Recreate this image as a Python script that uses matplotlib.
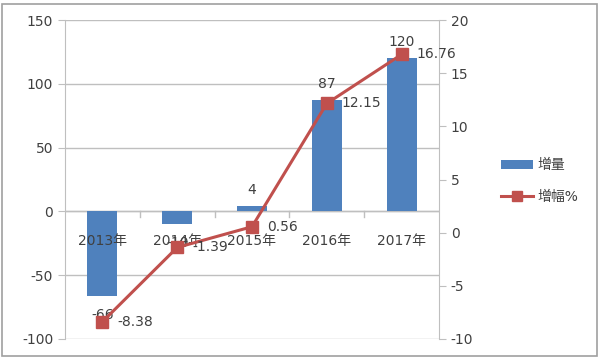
import numpy as np
import matplotlib.pyplot as plt
import matplotlib.ticker as mticker
from matplotlib.patches import Rectangle

plt.rcParams['font.family'] = ['DejaVu Sans', 'Noto Sans CJK SC']
plt.rcParams['axes.unicode_minus'] = False

years = ['2013年', '2014年', '2015年', '2016年', '2017年']
increase = [-66, -10, 4, 87, 120]
growth = [-8.38, -1.39, 0.56, 12.15, 16.76]

bar_col = '#4F81BD'
line_col = '#C0504D'
grid_col = '#BFBFBF'
txt_col = '#404040'

fig = plt.figure(figsize=(6.0, 3.59), dpi=100)
ax = fig.add_axes([65/600, 20/359, (439-65)/600, (339-20)/359])
ax2 = ax.twinx()

x = np.arange(len(years))
ax.bar(x, increase, width=0.4, color=bar_col, label='增量', zorder=2)
ax2.plot(x, growth, color=line_col, lw=2.2, marker='s', ms=9,
         markeredgecolor=line_col, label='增幅%', zorder=3)

ax.set_xlim(-0.5, 4.5)
ax.set_ylim(-100, 150)
ax2.set_ylim(-10, 20)
ax.yaxis.set_major_locator(mticker.MultipleLocator(50))
ax2.yaxis.set_major_locator(mticker.MultipleLocator(5))

ax.grid(axis='y', color=grid_col, lw=1, zorder=0)
ax.axhline(0, color=grid_col, lw=1, zorder=1)

for s in ['top', 'bottom']:
    ax.spines[s].set_visible(False)
    ax2.spines[s].set_visible(False)
ax2.spines['left'].set_visible(False)
ax.spines['right'].set_visible(False)
ax.spines['left'].set_color(grid_col)
ax2.spines['right'].set_color(grid_col)

ax.tick_params(axis='y', colors=txt_col, labelsize=10, length=5, color=grid_col)
ax2.tick_params(axis='y', colors=txt_col, labelsize=10, length=5, color=grid_col)

# category labels sit just below the zero line
ax.set_xticks([])
for i, lab in enumerate(years):
    ax.text(i, -23, lab, ha='center', va='center', fontsize=10, color=txt_col)
# ticks between categories on the zero line
for b in np.arange(0.5, 4.5, 1):
    ax.plot([b, b], [0, -4], color=grid_col, lw=1, zorder=1)

# bar value labels
for i, v in enumerate(increase):
    off = 12.5 if v >= 0 else -15
    ax.text(i, v + off, str(v), ha='center', va='center', fontsize=10, color=txt_col)

# line value labels
for i, v in enumerate(growth):
    ax2.text(i + 0.2, v, f'{v:.2f}', ha='left', va='center', fontsize=10,
             color=txt_col, zorder=4)

h1, l1 = ax.get_legend_handles_labels()
h2, l2 = ax2.get_legend_handles_labels()
fig.legend(h1 + h2, l1 + l2, loc='center left', bbox_to_anchor=(0.815, 0.495),
           frameon=False, fontsize=10, labelcolor=txt_col, handlelength=2.3,
           handletextpad=0.3, labelspacing=1.3, markerscale=0.8)

fig.patches.append(Rectangle((2/600, 3/359), 595/600, 352/359, transform=fig.transFigure,
                             fill=False, edgecolor='#A0A0A0', lw=1.2))

fig.savefig('out.png', dpi=100)
